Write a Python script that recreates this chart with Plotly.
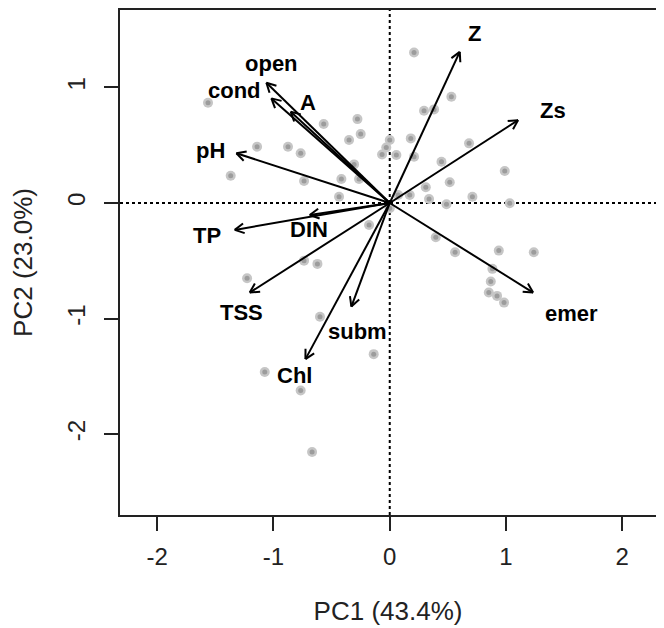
import math
import plotly.graph_objects as go

# Site scores
pc1 = [-1.563, -0.568, -0.278, -0.25, -0.35, 0.0, -0.03, -0.066, 0.057, -1.141,
       -0.875, -0.766, -1.368, -0.737, -0.416, -0.264, -0.307, -0.436, 0.0, -0.178,
       -0.737, -0.622, -1.227, -0.6, -0.138, -1.075, -0.766, -0.668, 0.209, 0.53,
       0.295, 0.381, 0.181, 0.209, 0.682, 0.445, 0.989, 0.516, 0.31, 0.072,
       0.172, 0.338, 0.711, 0.488, 1.032, 0.396, 0.562, 0.938, 1.239, 0.883,
       0.869, 0.852, 0.923, 0.983]
pc2 = [0.867, 0.683, 0.726, 0.596, 0.545, 0.545, 0.48, 0.42, 0.415, 0.487,
       0.487, 0.43, 0.236, 0.19, 0.207, 0.207, 0.334, 0.054, -0.046, -0.19,
       -0.499, -0.527, -0.651, -0.985, -1.308, -1.463, -1.622, -2.155, 1.302, 0.919,
       0.798, 0.81, 0.559, 0.4, 0.516, 0.357, 0.277, 0.179, 0.136, 0.069,
       0.069, 0.035, 0.054, -0.011, -0.003, -0.297, -0.426, -0.412, -0.426, -0.57,
       -0.68, -0.775, -0.804, -0.862]

# Variable loadings (arrow tips) and label positions
var_names = ["open", "cond", "A", "pH", "TP", "DIN", "TSS", "subm", "Chl", "Z", "Zs", "emer"]
var_x = [-1.061, -1.018, -0.852, -1.319, -1.333, -0.688, -1.204, -0.33, -0.725, 0.602, 1.104, 1.233]
var_y = [1.04, 0.905, 0.79, 0.43, -0.233, -0.104, -0.775, -0.896, -1.351, 1.308, 0.717, -0.775]
lab_x = [-1.018, -1.333, -0.703, -1.542, -1.571, -0.697, -1.276, -0.281, -0.823, 0.731, 1.4, 1.563]
lab_y = [1.207, 0.971, 0.867, 0.458, -0.277, -0.233, -0.948, -1.112, -1.493, 1.467, 0.804, -0.953]

x_ticks = [-2, -1, 0, 1, 2]
y_ticks = [-2, -1, 0, 1]
x_title = "PC1 (43.4%)"
y_title = "PC2 (23.0%)"

FONT = "Liberation Sans, Arial, Helvetica, sans-serif"

fig = go.Figure()

# Points: light ring with darker centre
fig.add_trace(go.Scatter(x=pc1, y=pc2, mode="markers",
                         marker=dict(size=10, color="#c6c6c6", line=dict(width=0)),
                         hoverinfo="skip", showlegend=False))
fig.add_trace(go.Scatter(x=pc1, y=pc2, mode="markers",
                         marker=dict(size=5, color="#9c9c9c", line=dict(width=0)),
                         hoverinfo="skip", showlegend=False))

# Arrows: shafts + open heads
ax, ay = [], []
head_len = 0.09
head_ang = math.radians(28)
for tx, ty in zip(var_x, var_y):
    ax += [0, tx, None]
    ay += [0, ty, None]
    ang = math.atan2(ty, tx)
    for s in (1, -1):
        a = ang + math.pi + s * head_ang
        ax += [tx + head_len * math.cos(a), tx, None]
        ay += [ty + head_len * math.sin(a), ty, None]
fig.add_trace(go.Scatter(x=ax, y=ay, mode="lines",
                         line=dict(color="black", width=2),
                         hoverinfo="skip", showlegend=False))

for n, lx, ly in zip(var_names, lab_x, lab_y):
    fig.add_annotation(x=lx, y=ly, text="<b>%s</b>" % n, showarrow=False,
                       font=dict(family=FONT, size=22, color="black"),
                       xanchor="center", yanchor="middle")

# Dotted zero lines
fig.add_shape(type="line", x0=0, x1=0, y0=0, y1=1, xref="x", yref="paper",
              line=dict(color="black", width=2, dash="dot"), layer="below")
fig.add_shape(type="line", x0=0, x1=1, y0=0, y1=0, xref="paper", yref="y",
              line=dict(color="black", width=2, dash="dot"), layer="below")

fig.update_layout(
    width=664, height=628,
    margin=dict(l=112, r=16, t=2, b=121),
    paper_bgcolor="white", plot_bgcolor="white",
    font=dict(family=FONT, color="#222222"),
    showlegend=False,
)
fig.update_xaxes(range=[-2.32, 2.29], tickvals=x_ticks, ticktext=[str(v) for v in x_ticks],
                 showgrid=False, zeroline=False, showline=True, mirror=True,
                 linecolor="#222222", linewidth=2, ticks="outside", ticklen=14,
                 tickwidth=1.5, tickcolor="#222222", tickfont=dict(size=24),
                 ticklabelstandoff=5, automargin=False,
                 title=dict(text=x_title, font=dict(size=26), standoff=33))
fig.update_yaxes(range=[-2.70, 1.67], tickvals=y_ticks, ticktext=[str(v) for v in y_ticks],
                 showgrid=False, zeroline=False, showline=True, mirror=True,
                 linecolor="#222222", linewidth=2, ticks="outside", ticklen=14,
                 tickwidth=1.5, tickcolor="#222222", tickfont=dict(size=24),
                 tickangle=-90, ticklabelstandoff=9, automargin=False,
                 title=dict(text=y_title, font=dict(size=26), standoff=30))

fig.write_html("out.html")
